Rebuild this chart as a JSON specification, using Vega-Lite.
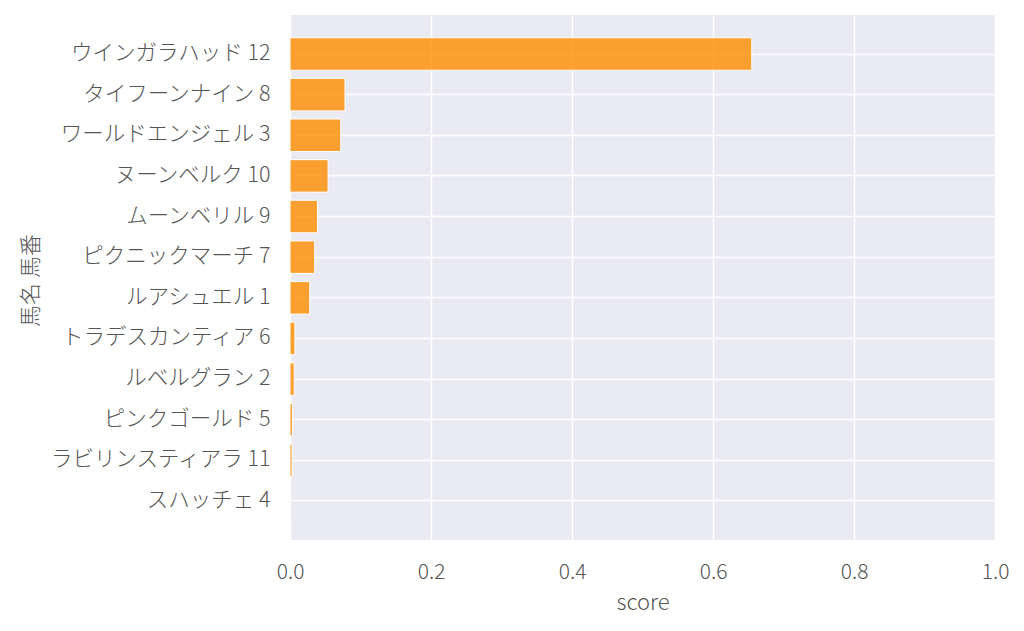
{
  "$schema": "https://vega.github.io/schema/vega-lite/v6.json",
  "width": 705,
  "height": 525,
  "autosize": {"type": "none"},
  "padding": {"left": 290, "top": 15, "right": 29, "bottom": 91},
  "background": "white",
  "config": {
    "view": {"fill": "#eaeaf2", "stroke": null},
    "font": "Noto Sans CJK JP"
  },
  "data": {
    "values": [
      {"name": "ウインガラハッド 12", "score": 0.655},
      {"name": "タイフーンナイン 8", "score": 0.078},
      {"name": "ワールドエンジェル 3", "score": 0.072},
      {"name": "ヌーンベルク 10", "score": 0.054},
      {"name": "ムーンベリル 9", "score": 0.039},
      {"name": "ピクニックマーチ 7", "score": 0.035},
      {"name": "ルアシュエル 1", "score": 0.028},
      {"name": "トラデスカンティア 6", "score": 0.007},
      {"name": "ルベルグラン 2", "score": 0.006},
      {"name": "ピンクゴールド 5", "score": 0.0035},
      {"name": "ラビリンスティアラ 11", "score": 0.003},
      {"name": "スハッチェ 4", "score": 0.0003}
    ]
  },
  "mark": {"type": "bar", "fill": "darkorange", "fillOpacity": 0.8, "stroke": "white", "strokeWidth": 1},
  "encoding": {
    "y": {
      "field": "name",
      "type": "nominal",
      "sort": null,
      "scale": {"paddingInner": 0.2, "paddingOuter": 0.56},
      "axis": {
        "title": "馬名 馬番",
        "bandPosition": 0.5,
        "grid": true,
        "gridColor": "white",
        "gridWidth": 1.5,
        "domain": false,
        "ticks": false,
        "labelLimit": 0,
        "labelPadding": 20,
        "labelFontSize": 21.5,
        "labelFontWeight": 300,
        "labelColor": "#555555",
        "titleFontSize": 22,
        "titleFontWeight": 300,
        "titleColor": "#555555",
        "titleX": -260,
        "titleY": 265,
        "titleBaseline": "middle",
        "titleAngle": 270
      }
    },
    "x": {
      "field": "score",
      "type": "quantitative",
      "scale": {"domain": [0, 1], "nice": false},
      "axis": {
        "title": "score",
        "values": [0, 0.2, 0.4, 0.6, 0.8, 1.0],
        "format": ".1f",
        "labelFlush": false,
        "grid": true,
        "gridColor": "white",
        "gridWidth": 1.5,
        "domain": false,
        "ticks": false,
        "labelPadding": 21,
        "labelFontSize": 21,
        "labelFontWeight": 300,
        "labelColor": "#555555",
        "titleFontSize": 22,
        "titleFontWeight": 300,
        "titleColor": "#555555",
        "titlePadding": 10
      }
    }
  }
}
